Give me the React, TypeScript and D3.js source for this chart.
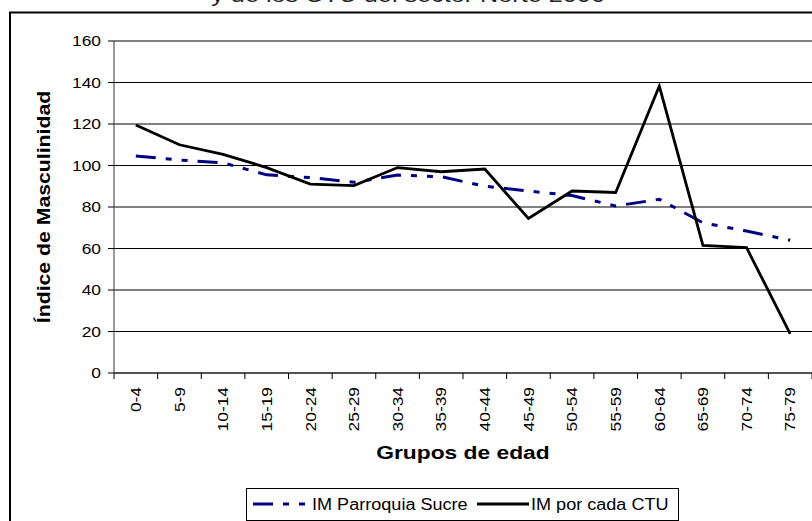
import React from 'react';
import { scaleBand, scaleLinear, line, range } from 'd3';

// age groups on the x axis
const grupos = [
  '0-4', '5-9', '10-14', '15-19', '20-24', '25-29', '30-34', '35-39',
  '40-44', '45-49', '50-54', '55-59', '60-64', '65-69', '70-74', '75-79',
];

// IM Parroquia Sucre (dash-dot, navy)
const imParroquia = [
  104.6, 102.6, 101.3, 95.5, 94.2, 91.9, 95.4, 94.6,
  90.0, 87.7, 85.5, 80.5, 83.7, 72.4, 68.4, 64.0,
];

// IM por cada CTU (solid, black)
const imCtu = [
  119.5, 110.0, 105.4, 99.0, 91.0, 90.3, 99.0, 97.0,
  98.3, 74.5, 87.7, 87.0, 138.3, 61.5, 60.4, 18.8,
];

const yTicks = [0, 20, 40, 60, 80, 100, 120, 140, 160];

const FONT = 'Arial, "Liberation Sans", Helvetica, sans-serif';
const DASH = '20 10 6 10 6 10';
// the original's lettering is drawn a little wide
const SX = 1.2;

const App = () => {
  const left = 114;
  const right = 812;
  const top = 41;
  const bottom = 373;

  const x = scaleBand<string>().domain(grupos).range([left, right]).padding(0);
  const y = scaleLinear().domain([0, 160]).range([bottom, top]);
  const cx = (g: string) => (x(g) ?? 0) + x.bandwidth() / 2;

  const path = line<number>()
    .x((_, i) => cx(grupos[i]))
    .y((d) => y(d));

  return (
    <svg
      width={812}
      height={521}
      style={{ position: 'absolute', left: 0, top: 0, background: '#fff' }}
      fontFamily={FONT}
    >
      <rect x={0} y={0} width={812} height={521} fill="#fff" />

      {/* title, mostly cut off above the frame */}
      <text
        transform={`translate(408,2) scale(${SX},1)`}
        textAnchor="middle"
        fontSize={21}
        fill="#222"
      >
        y de los CTU del sector Norte 2006
      </text>

      {/* chart frame */}
      <rect x={10} y={12.5} width={900} height={600} fill="none" stroke="#000" strokeWidth={2} />

      {/* gridlines */}
      {yTicks.map((t) => (
        <line key={t} x1={left} x2={right} y1={y(t)} y2={y(t)} stroke="#000" strokeWidth={1} />
      ))}

      {/* y axis */}
      <line x1={left} x2={left} y1={top} y2={bottom} stroke="#555" strokeWidth={1.2} />
      {yTicks.map((t) => (
        <g key={t}>
          <line x1={left - 6} x2={left} y1={y(t)} y2={y(t)} stroke="#000" />
          <text
            transform={`translate(101,${y(t)}) scale(${SX},1)`}
            dy="0.36em"
            textAnchor="end"
            fontSize={14.5}
          >
            {t}
          </text>
        </g>
      ))}

      {/* x axis */}
      <line x1={left} x2={right} y1={bottom} y2={bottom} stroke="#444" strokeWidth={1.5} />
      {range(grupos.length + 1).map((i) => {
        const xx = left + i * x.bandwidth();
        return <line key={i} x1={xx} x2={xx} y1={bottom} y2={bottom + 6} stroke="#000" />;
      })}
      {grupos.map((g) => (
        <text
          key={g}
          transform={`translate(${cx(g)},387) rotate(-90) scale(${SX},1)`}
          dy="0.36em"
          textAnchor="end"
          fontSize={14.5}
        >
          {g}
        </text>
      ))}

      {/* axis titles */}
      <text
        transform={`translate(44,${(top + bottom) / 2}) rotate(-90) scale(1.18,1)`}
        dy="0.36em"
        textAnchor="middle"
        fontSize={18}
        fontWeight="bold"
      >
        Índice de Masculinidad
      </text>
      <text
        transform={`translate(${(left + right) / 2},459) scale(${SX},1)`}
        textAnchor="middle"
        fontSize={19}
        fontWeight="bold"
      >
        Grupos de edad
      </text>

      {/* series */}
      <path
        d={path(imParroquia) ?? ''}
        fill="none"
        stroke="#000080"
        strokeWidth={3}
        strokeDasharray={DASH}
      />
      <path
        d={path(imCtu) ?? ''}
        fill="none"
        stroke="#000"
        strokeWidth={2.8}
        strokeLinejoin="miter"
      />

      {/* legend */}
      <rect x={246.5} y={488.5} width={432} height={32} fill="#fff" stroke="#000" />
      <line x1={253} x2={308} y1={504} y2={504} stroke="#000080" strokeWidth={3} strokeDasharray={DASH} />
      <text transform="translate(312,509.5) scale(1.13,1)" fontSize={16}>
        IM Parroquia Sucre
      </text>
      <line x1={477} x2={529} y1={504} y2={504} stroke="#000" strokeWidth={2.8} />
      <text transform="translate(531,509.5) scale(1.13,1)" fontSize={16}>
        IM por cada CTU
      </text>
    </svg>
  );
};

export default App;
